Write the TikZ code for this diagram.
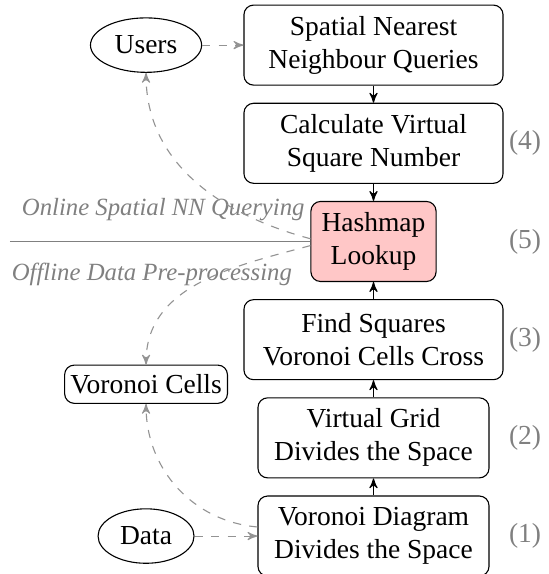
\documentclass[tikz,border=0pt]{standalone}
\usepackage{fontspec}
\setmainfont{Liberation Serif}
\usetikzlibrary{positioning, arrows, shapes.geometric}
\tikzset{
>=stealth', % small filled arrow heads
node distance=35.7pt, % centre to centre distance between two stages
stage/.style={draw, rounded corners=3.5pt, align=center, minimum height=29.1pt, inner sep=2pt}, % one processing stage
widestage/.style={stage, minimum width=94.2pt},
narrowstage/.style={stage, minimum width=84pt},
source/.style={draw, ellipse, inner sep=2.9pt, minimum height=19.8pt}, % where the input comes from
stagenum/.style={text=gray},
phase/.style={text=gray, font=\small\itshape},
flow/.style={->, dashed, gray!85},
}
\begin{document}
\begin{tikzpicture}
  \useasboundingbox (0,0) rectangle (199.3pt,-208.7pt);

  % Stages
  \node[widestage] (query) at (135.8pt,-16.4pt) {Spatial Nearest\\Neighbour Queries};
  \node[widestage, below of=query] (calc) {Calculate Virtual\\Square Number};
  \node[stage, fill=red!22, minimum width=45.5pt, below of=calc] (hash) {Hashmap\\Lookup};
  \node[widestage, below of=hash] (find) {Find Squares\\Voronoi Cells Cross};
  \node[narrowstage, below of=find] (grid) {Virtual Grid\\Divides the Space};
  \node[narrowstage, below of=grid] (vd) {Voronoi Diagram\\Divides the Space};

  % Inputs and the cells
  \node[source, left of=query, node distance=82.7pt] (users) {Users};
  \node[source, left of=vd, node distance=82.7pt] (data) {Data};
  \node[stage, minimum width=59.2pt, minimum height=13.9pt, inner sep=1pt, below of=users, node distance=123.3pt] (cells) {Voronoi Cells};

  % Step numbers
  \node[stagenum, right of=vd, node distance=55.1pt] (n1) {(1)};
  \node[stagenum, right of=grid, node distance=55.1pt] (n2) {(2)};
  \node[stagenum, right of=find, node distance=55.1pt] (n3) {(3)};
  \node[stagenum, right of=calc, node distance=55.1pt] (n4) {(4)};
  \node[stagenum, right of=hash, node distance=55.1pt] (n5) {(5)};

  % Online / offline split
  \coordinate (cut) at (3.6pt,-87.6pt);
  \draw[gray] (hash.west -| cut) -- (hash.west);
  \node[phase, anchor=east] (online) at ([shift={(1.4pt,11.6pt)}]hash.west) {Online Spatial NN Querying};
  \node[phase, anchor=east] (offline) at ([shift={(-3.2pt,-12pt)}]hash.west) {Offline Data Pre-processing};

  % Transitions
  \path[->]
    (query) edge (calc)
    (calc) edge (hash)
    (find) edge (hash)
    (grid) edge (find)
    (vd) edge (grid);

  \draw[flow] (users) -- (query);
  \draw[flow] (data) -- (vd);
  \draw[flow] ([yshift=1pt]hash.west) to[out=165, in=-90] (users);
  \draw[flow] ([yshift=-1.5pt]hash.west) to[out=195, in=90] (cells);
  \draw[flow] ([yshift=3.3pt]vd.west) to[out=175, in=-90] (cells);
\end{tikzpicture}
\end{document}
